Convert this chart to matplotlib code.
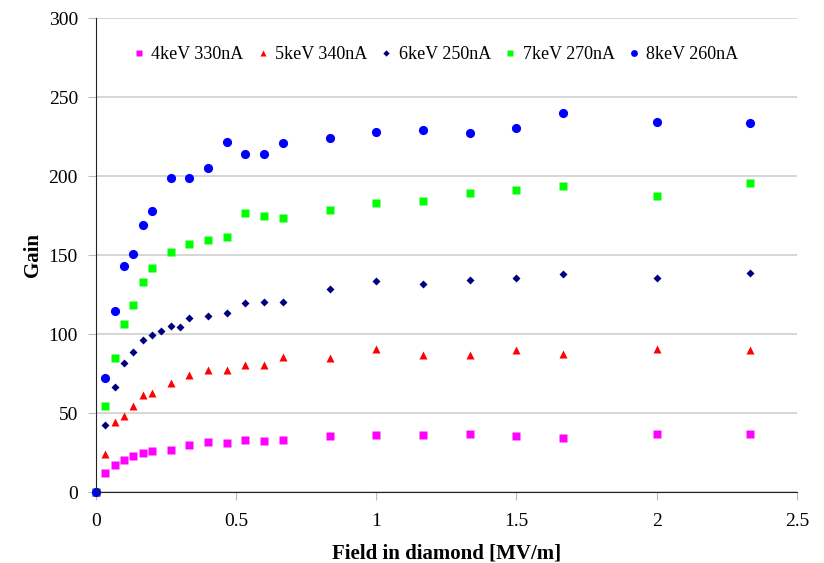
import matplotlib
matplotlib.use("Agg")
import matplotlib.pyplot as plt

# field values [MV/m]
field = [0, 0.0333, 0.0667, 0.1, 0.1333, 0.1667, 0.2, 0.2667, 0.3333, 0.4, 0.4667,
         0.5333, 0.6, 0.6667, 0.8333, 1.0, 1.1667, 1.3333, 1.5, 1.6667, 2.0, 2.3333]
# the 6keV run has two extra points (0.233, 0.3)
field_6 = [0, 0.0333, 0.0667, 0.1, 0.1333, 0.1667, 0.2, 0.2333, 0.2667, 0.3, 0.3333, 0.4,
           0.4667, 0.5333, 0.6, 0.6667, 0.8333, 1.0, 1.1667, 1.3333, 1.5, 1.6667, 2.0, 2.3333]

gain_4kev = [0, 12.0, 17.1, 20.2, 23.0, 24.9, 26.1, 26.8, 29.5, 31.4, 31.0,
             32.9, 32.0, 32.7, 35.4, 36.3, 36.1, 36.5, 35.4, 34.2, 36.6, 36.8]
gain_5kev = [0, 24.2, 44.5, 47.9, 54.6, 61.2, 62.6, 69.0, 74.2, 77.2, 77.2,
             80.1, 80.1, 85.6, 84.8, 90.7, 86.5, 86.7, 90.1, 87.3, 90.3, 90.1]
gain_6kev = [0, 42.4, 66.8, 81.8, 88.6, 96.0, 99.1, 101.7, 104.8, 104.6, 109.9, 111.4,
             113.5, 119.4, 120.3, 120.3, 128.5, 133.3, 131.4, 134.2, 135.2, 138.0, 135.6, 138.4]
gain_7kev = [0, 54.2, 85.0, 106.5, 118.5, 132.9, 141.8, 151.7, 156.7, 159.7, 161.6,
             176.8, 174.7, 173.6, 178.7, 182.9, 183.9, 189.2, 191.3, 193.4, 187.1, 195.3]
gain_8kev = [0, 72.3, 114.6, 143.2, 150.6, 168.7, 178.0, 198.9, 198.5, 205.0, 221.7,
             213.7, 213.7, 220.6, 223.8, 228.0, 229.1, 227.0, 230.1, 239.6, 234.4, 233.3]

labels = ["4keV 330nA", "5keV 340nA", "6keV 250nA", "7keV 270nA", "8keV 260nA"]

plt.rcParams['font.family'] = ['Liberation Serif', 'DejaVu Serif']

fig = plt.figure(figsize=(8.24, 5.63), dpi=100)
ax = fig.add_axes([0.1165, 0.126, 0.8505, 0.842])

ax.plot(field, gain_4kev, 's', color='#FF00FF', ms=5.8, mec='none', label=labels[0], clip_on=False)
ax.plot(field, gain_5kev, '^', color='#FF0000', ms=6.2, mec='none', label=labels[1], clip_on=False)
ax.plot(field_6, gain_6kev, 'D', color='#000080', ms=4.3, mec='none', label=labels[2], clip_on=False)
ax.plot(field, gain_7kev, 's', color='#00FF00', ms=5.3, mec='none', label=labels[3], clip_on=False)
ax.plot(field, gain_8kev, 'o', color='#0000FF', ms=6.6, mec='none', label=labels[4], clip_on=False)

ax.set_xlim(0, 2.5)
ax.set_ylim(0, 300)
ax.set_xticks([0, 0.5, 1, 1.5, 2, 2.5])
ax.set_xticklabels(["0", "0.5", "1", "1.5", "2", "2.5"])
ax.set_yticks(range(0, 301, 50))
ax.yaxis.grid(True, color='#d0d0d0', lw=1.2)
ax.set_axisbelow(True)

for s in ['top', 'right']:
    ax.spines[s].set_visible(False)
ax.spines['left'].set_color('#222222')
ax.spines['bottom'].set_color('#222222')
ax.tick_params(axis='both', labelsize=14, length=6, color='#bbbbbb')
ax.tick_params(axis='x', pad=9)
ax.tick_params(axis='y', pad=7)

ax.set_xlabel("Field in diamond [MV/m]", fontsize=15, fontweight='bold', labelpad=10)
ax.set_ylabel("Gain", fontsize=15, fontweight='bold', labelpad=4)

ax.legend(loc='upper left', bbox_to_anchor=(0.03, 0.975), ncol=5, frameon=False,
          fontsize=13, handlelength=0.6, handletextpad=0.4, columnspacing=0.75,
          markerscale=0.75)

fig.savefig("out.png", dpi=100)
